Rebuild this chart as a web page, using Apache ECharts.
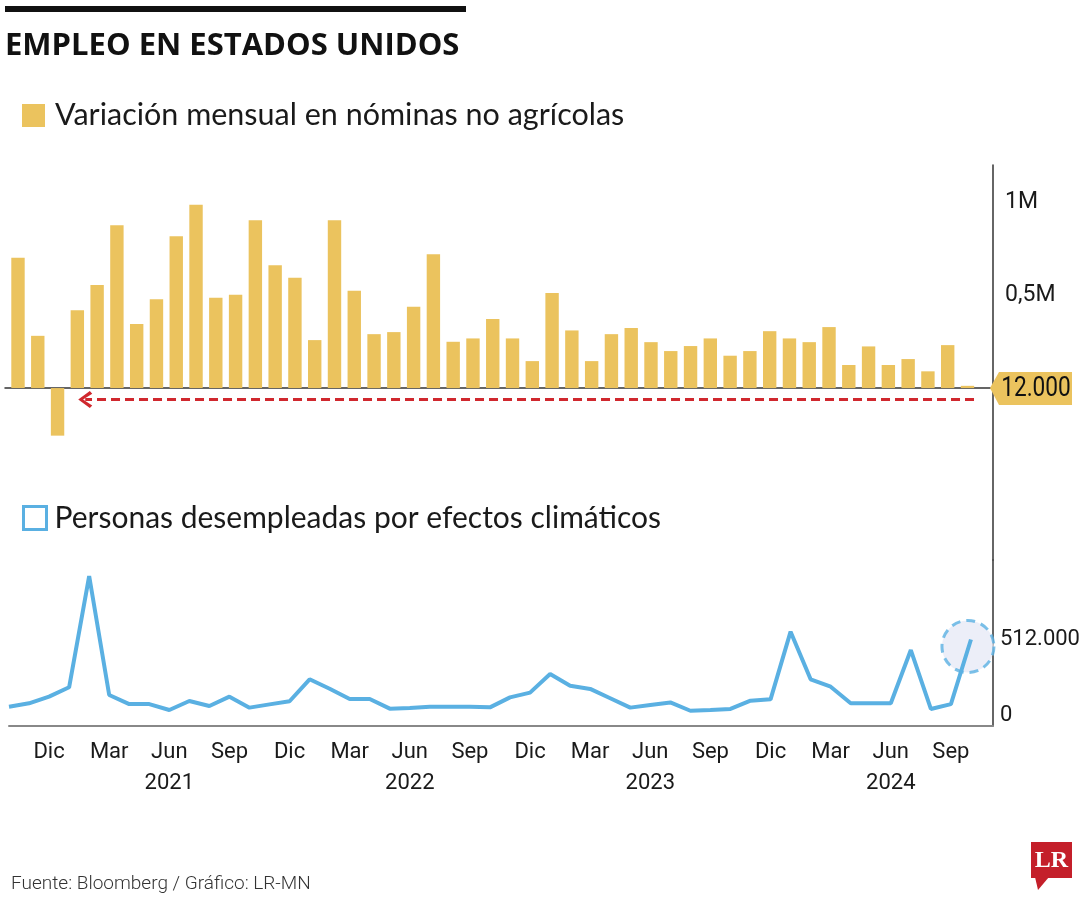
<!DOCTYPE html>
<html><head><meta charset="utf-8">
<script src="https://cdn.jsdelivr.net/npm/echarts@6/dist/echarts.min.js"></script>
<style>html,body{margin:0;padding:0;background:#fff}#c{width:1080px;height:900px}</style>
</head><body><div id="c"></div>
<script>
// ---- data ----
const months = ['Oct 2020','Nov 2020','Dic 2020',
  'Ene 2021','Feb 2021','Mar 2021','Abr 2021','May 2021','Jun 2021','Jul 2021','Ago 2021','Sep 2021','Oct 2021','Nov 2021','Dic 2021',
  'Ene 2022','Feb 2022','Mar 2022','Abr 2022','May 2022','Jun 2022','Jul 2022','Ago 2022','Sep 2022','Oct 2022','Nov 2022','Dic 2022',
  'Ene 2023','Feb 2023','Mar 2023','Abr 2023','May 2023','Jun 2023','Jul 2023','Ago 2023','Sep 2023','Oct 2023','Nov 2023','Dic 2023',
  'Ene 2024','Feb 2024','Mar 2024','Abr 2024','May 2024','Jun 2024','Jul 2024','Ago 2024','Sep 2024','Oct 2024'];
const payrolls = [701000, 281000, -256000, 419000, 554000, 876000, 344000, 478000, 817000, 986000,
  486000, 502000, 903000, 661000, 593000, 258000, 903000, 523000, 290000, 301000,
  437000, 720000, 249000, 267000, 371000, 267000, 145000, 511000, 310000, 145000,
  290000, 323000, 247000, 199000, 226000, 267000, 174000, 199000, 306000, 267000,
  247000, 328000, 124000, 224000, 124000, 156000, 90000, 231000, 12000];
const weather = [59000, 82000, 127000, 190000, 940000, 138000, 77000, 77000, 37000, 98000,
  64000, 127000, 53000, 75000, 96000, 244000, 180000, 111000, 111000, 46000,
  51000, 59000, 59000, 59000, 55000, 122000, 154000, 280000, 201000, 179000,
  116000, 53000, 71000, 88000, 32000, 37000, 44000, 100000, 109000, 565000,
  244000, 194000, 82000, 82000, 82000, 441000, 44000, 77000, 512000];
const tickMonths = ['Dic 2020','Mar 2021','Jun 2021','Sep 2021','Dic 2021','Mar 2022','Jun 2022','Sep 2022',
  'Dic 2022','Mar 2023','Jun 2023','Sep 2023','Dic 2023','Mar 2024','Jun 2024','Sep 2024'];
const tickLabels = ['Dic','Mar','Jun\n2021','Sep','Dic','Mar','Jun\n2022','Sep','Dic','Mar','Jun\n2023','Sep','Dic','Mar','Jun\n2024','Sep'];
const barTicks = [500000, 1000000];
const barTickLabels = ['0,5M', '1M'];
const lineTicks = [0, 512000];
const lineTickLabels = ['0', '512.000'];
const lastPayrollLabel = '12.000';
const barName = 'Variación mensual en nóminas no agrícolas';
const lineName = 'Personas desempleadas por efectos climáticos';

// ---- chart ----
const COND = "Roboto,'Liberation Sans',sans-serif";
const REG = "Lato,'Noto Sans',sans-serif";
const YELLOW = '#ebc35e', BLUE = '#5ab0e2', RED = '#d0282e';
const tickIdx = tickMonths.map(m => months.indexOf(m));
const lastIdx = months.length - 1;
const chevron = 'path://M10,0 L20,12 L17,14.5 L10,5 L3,14.5 L0,12 Z';

const chart = echarts.init(document.getElementById('c'), null, {renderer: 'canvas'});
const option = {
  animation: false,
  backgroundColor: '#fff',
  title: [
    {text: 'EMPLEO EN ESTADOS UNIDOS', left: 5, top: 31, padding: 0,
     textStyle: {fontFamily: "'Open Sans',sans-serif", fontWeight: 'bold', fontSize: 31, color: '#111'}},
    {text: 'Fuente: Bloomberg / Gráfico: LR-MN', left: 11, top: 875, padding: 0,
     textStyle: {fontFamily: "Roboto,sans-serif", fontWeight: 300, fontSize: 19, color: '#333'}}
  ],
  legend: [
    {left: 22, top: 100, padding: 0, itemWidth: 23, itemHeight: 23, selectedMode: false,
     data: [{name: barName, icon: 'rect'}],
     textStyle: {fontFamily: REG, fontSize: 30.5, color: '#1a1a1a', padding: [0, 0, 0, 5]}},
    {left: 22, top: 503, padding: 0, itemWidth: 23, itemHeight: 23, selectedMode: false,
     data: [{name: lineName, icon: 'rect', itemStyle: {color: '#fff', borderColor: BLUE, borderWidth: 3}}],
     textStyle: {fontFamily: REG, fontSize: 30, color: '#1a1a1a', padding: [0, 0, 0, 3]}}
  ],
  grid: [
    {left: 5, right: 87, top: 165, height: 395, outerBoundsMode: 'none', containLabel: false},
    {left: 9, right: 87, top: 560, height: 166, outerBoundsMode: 'none', containLabel: false}
  ],
  xAxis: [
    {gridIndex: 0, type: 'value', min: -0.657, max: 49.29,
     axisLine: {show: true, onZero: true, lineStyle: {color: '#333', width: 1.5}},
     axisTick: {show: false}, axisLabel: {show: false}, splitLine: {show: false}},
    {gridIndex: 1, type: 'value', min: 0, max: 49.1,
     axisLine: {show: true, onZero: false, lineStyle: {color: '#888', width: 2}},
     axisTick: {show: false}, splitLine: {show: false},
     axisLabel: {customValues: tickIdx, formatter: v => tickLabels[tickIdx.indexOf(v)],
       fontFamily: COND, fontSize: 22, color: '#1a1a1a', lineHeight: 31, margin: 11}}
  ],
  yAxis: [
    {gridIndex: 0, type: 'value', position: 'right', min: -925000, max: 1200000,
     axisLine: {show: true, onZero: false, lineStyle: {color: '#333', width: 1.5}},
     axisTick: {show: false}, splitLine: {show: false},
     axisLabel: {customValues: barTicks, formatter: v => barTickLabels[barTicks.indexOf(v)],
       fontFamily: COND, fontSize: 23, color: '#1a1a1a', margin: 12}},
    {gridIndex: 1, type: 'value', position: 'right', min: -70800, max: 1048000,
     axisLine: {show: true, onZero: false, lineStyle: {color: '#333', width: 1.5}},
     axisTick: {show: false}, splitLine: {show: false},
     axisLabel: {customValues: lineTicks, formatter: v => lineTickLabels[lineTicks.indexOf(v)],
       fontFamily: COND, fontSize: 22, color: '#1a1a1a', margin: 7}}
  ],
  series: [
    {name: barName, type: 'bar', xAxisIndex: 0, yAxisIndex: 0,
     data: payrolls.map((v, i) => [i, v]), barWidth: 13.4,
     itemStyle: {color: YELLOW},
     markLine: {silent: true, symbol: ['none', chevron], symbolSize: [17, 14],
       lineStyle: {color: RED, width: 3.2, type: [9, 5]}, label: {show: false},
       emphasis: {disabled: true},
       data: [[{coord: [lastIdx + 0.33, -62000]}, {coord: [3.4, -62000]}]]}},
    {name: lineName, type: 'line', xAxisIndex: 1, yAxisIndex: 1, z: 3,
     data: weather.map((v, i) => [i, v]), symbol: 'none',
     itemStyle: {color: BLUE}, lineStyle: {color: BLUE, width: 4}},
    {name: 'destacado', type: 'scatter', xAxisIndex: 1, yAxisIndex: 1, z: 2, silent: true, clip: false,
     data: [[lastIdx, weather[lastIdx]]], symbolSize: 52, symbolOffset: [-3, 7],
     itemStyle: {color: '#e7eaf6', borderColor: BLUE, borderWidth: 3, borderType: [9, 6]}}
  ]
};
chart.setOption(option);

// annotations positioned from the library's own scales
const y0 = chart.convertToPixel({yAxisIndex: 0}, 0);
const xR = chart.convertToPixel({xAxisIndex: 0}, 49.29);
chart.setOption({
  graphic: [
    {type: 'rect', shape: {x: 5, y: 6, width: 461, height: 6}, style: {fill: '#111'}},
    {type: 'polygon', z: 10, shape: {points: [[xR - 3, y0], [xR + 6, y0 - 16], [xR + 79, y0 - 16], [xR + 79, y0 + 17], [xR + 6, y0 + 17]]},
     style: {fill: YELLOW}},
    {type: 'text', z: 11, x: xR + 43, y: y0 + 1, scaleX: 0.84, style: {text: lastPayrollLabel, fontFamily: COND, fontSize: 27,
      fill: '#111', align: 'center', verticalAlign: 'middle'}},
    {type: 'rect', shape: {x: 1031, y: 842, width: 41, height: 36}, style: {fill: '#c41f2a'}},
    {type: 'polygon', shape: {points: [[1035, 877], [1049, 877], [1038, 890]]}, style: {fill: '#c41f2a'}},
    {type: 'text', x: 1051.5, y: 861, style: {text: 'LR', fontFamily: "'Liberation Serif',serif", fontWeight: 'bold',
      fontSize: 24, fill: '#fff', align: 'center', verticalAlign: 'middle'}}
  ]
});
</script></body></html>
